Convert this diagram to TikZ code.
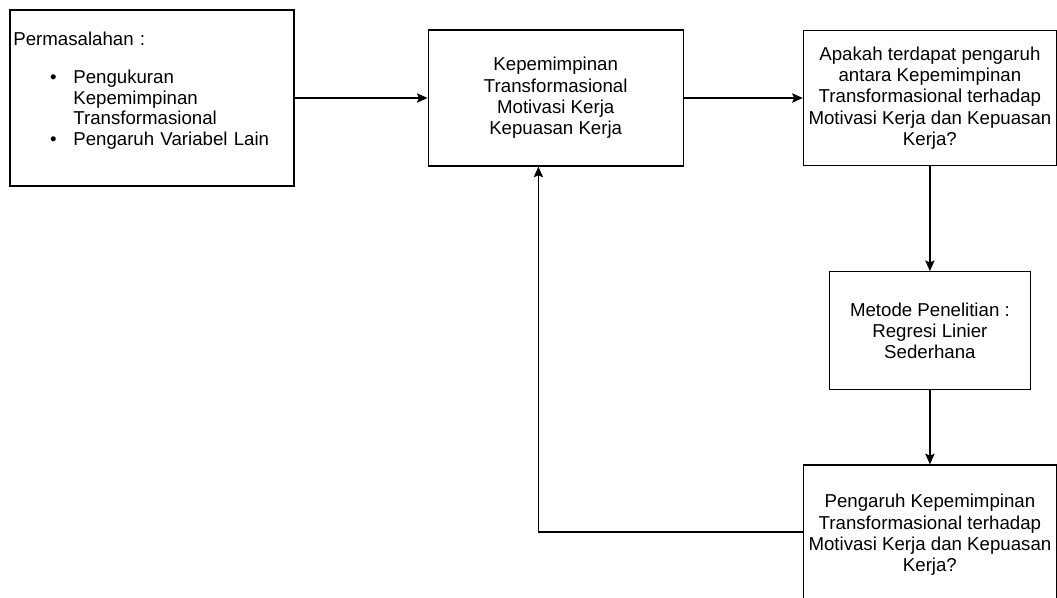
\documentclass[tikz,border=0pt]{standalone}
\usepackage{fontspec}
\setmainfont{Liberation Sans}
\usepackage{tikz}
\usetikzlibrary{arrows,arrows.meta,positioning}

\begin{document}
\begin{tikzpicture}[x=0.75pt,y=-0.75pt,
	box/.style={rectangle,draw,line width=0.9pt,inner sep=1.5pt,align=center,
		font=\fontsize{14pt}{16pt}\selectfont},
	paths/.style={->, line width=0.9pt, >={Stealth[length=8pt,width=7pt,inset=1.5pt]}}
	]
\useasboundingbox (0,0) rectangle (1057,597);

% boxes
\node [box, minimum width=213pt, minimum height=132pt, text width=208pt, align=left] (masalah) at (152,98)
	{Permasalahan :\\[12.5pt]
	 \hspace*{27.5pt}\makebox[17.5pt][l]{\textbullet}Pengukuran\\[-0.5pt]
	 \hspace*{45pt}Kepemimpinan\\[-0.5pt]
	 \hspace*{45pt}Transformasional\\[-0.5pt]
	 \hspace*{27.5pt}\makebox[17.5pt][l]{\textbullet}Pengaruh Variabel Lain\\[-2pt]\mbox{}};
\node [box, minimum width=191.25pt, minimum height=102pt] (var) [right = 99.75pt of masalah]
	{Kepemimpinan\\Transformasional\\Motivasi Kerja\\Kepuasan Kerja};
\node [box, minimum width=189.75pt, minimum height=101.25pt] (rumusan) [right = 89.25pt of var]
	{Apakah terdapat pengaruh\\antara Kepemimpinan\\Transformasional terhadap\\Motivasi Kerja dan Kepuasan\\Kerja?};
\node [box, minimum width=150.75pt, minimum height=88.5pt] (metode) [below = 78.75pt of rumusan]
	{Metode Penelitian :\\Regresi Linier\\Sederhana};
\node [box, minimum width=189.75pt, minimum height=105pt] (hasil) [below = 55.5pt of metode]
	{Pengaruh Kepemimpinan\\Transformasional terhadap\\Motivasi Kerja dan Kepuasan\\Kerja?};

% flow
\draw [paths] (masalah) to (var);
\draw [paths] (var) to (rumusan);
\draw [paths] (rumusan) to (metode);
\draw [paths] (metode) to (hasil);

% back to variables
\draw [paths] ([yshift=2.25pt]hasil.west) -| ([xshift=-13pt]var.south);
\end{tikzpicture}
\end{document}
